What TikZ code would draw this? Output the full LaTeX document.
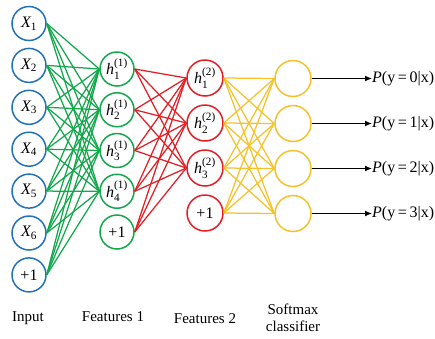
\documentclass[tikz,border=0pt]{standalone}
\usepackage{amsmath}
\usepackage{fontspec}
\setmainfont{Liberation Serif}
\usetikzlibrary{arrows.meta}
\definecolor{cblue}{HTML}{2372B9}
\definecolor{cgreen}{HTML}{12A84B}
\definecolor{cred}{HTML}{E31E24}
\definecolor{cyel}{HTML}{F5C22A}
\begin{document}
\begin{tikzpicture}[x=1pt,y=-1pt,
  neuron/.style={circle,line width=1.5pt,minimum size=34pt,inner sep=0pt,font=\fontsize{16}{16}\selectfont},
  inn/.style={neuron,draw=cblue},
  fone/.style={neuron,draw=cgreen},
  ftwo/.style={neuron,draw=cred,minimum size=36pt},
  soft/.style={neuron,draw=cyel,minimum size=36pt},
  gline/.style={draw=cgreen,line width=1.25pt},
  rline/.style={draw=cred,line width=1.25pt},
  yline/.style={draw=cyel,line width=1.25pt},
  outarrow/.style={draw=black,line width=1.2pt,-{Latex[length=7pt,width=6pt]}},
  plabel/.style={anchor=west,inner sep=0pt,font=\fontsize{16}{16}\selectfont},
  blabel/.style={font=\fontsize{15}{17}\selectfont,align=center,inner sep=0pt}]
\useasboundingbox (0,0) rectangle (435,338);
% input layer
\foreach \i in {1,...,6}{
  \node[inn] (x\i) at (29,{23.5+41.9*(\i-1)}) {$\textit{X}_{\text{\i}}$};
}
\node[inn] (x7) at (29,{23.5+41.9*6}) {+1};
% features 1
\foreach \i in {1,...,4}{
  \node[fone] (a\i) at (117,{69+40.75*(\i-1)}) {$\textit{h}_{\text{\i}}^{\text{(1)}}$};
}
\node[fone] (a5) at (117,{69+40.75*4}) {+1};
% features 2
\foreach \i in {1,...,3}{
  \node[ftwo] (b\i) at (205,{78+45*(\i-1)}) {$\textit{h}_{\text{\i}}^{\text{(2)}}$};
}
\node[ftwo] (b4) at (205,{78+45*3}) {+1};
% softmax
\foreach \i in {1,...,4}{
  \node[soft] (s\i) at (293,{78.5+45*(\i-1)}) {};
}
% connections
\foreach \i in {1,...,7}{
  \foreach \j in {1,...,4}{
    \draw[gline] (x\i.east) -- (a\j.west);
  }
}
\foreach \i in {1,...,5}{
  \foreach \j in {1,...,3}{
    \draw[rline] (a\i.east) -- (b\j.west);
  }
}
\foreach \i in {1,...,4}{
  \foreach \j in {1,...,4}{
    \draw[yline] (b\i.east) -- (s\j.west);
  }
}
% outputs
\node[plabel] (p1) at (372,78.5) {\textit{P}(y\,=\,0|x)};
\node[plabel] (p2) at (372,123.5) {\textit{P}(y\,=\,1|x)};
\node[plabel] (p3) at (372,168.5) {\textit{P}(y\,=\,2|x)};
\node[plabel] (p4) at (372,213.5) {\textit{P}(y\,=\,3|x)};
\foreach \i in {1,...,4}{
  \draw[outarrow] (s\i.east) -- (p\i.west);
}
% bottom labels
\node[blabel] (l1) at (28,318) {Input};
\node[blabel] (l2) at (113,317) {Features 1};
\node[blabel] (l3) at (205,319) {Features 2};
\node[blabel] (l4) at (293,318) {Softmax\\classifier};
\end{tikzpicture}
\end{document}
